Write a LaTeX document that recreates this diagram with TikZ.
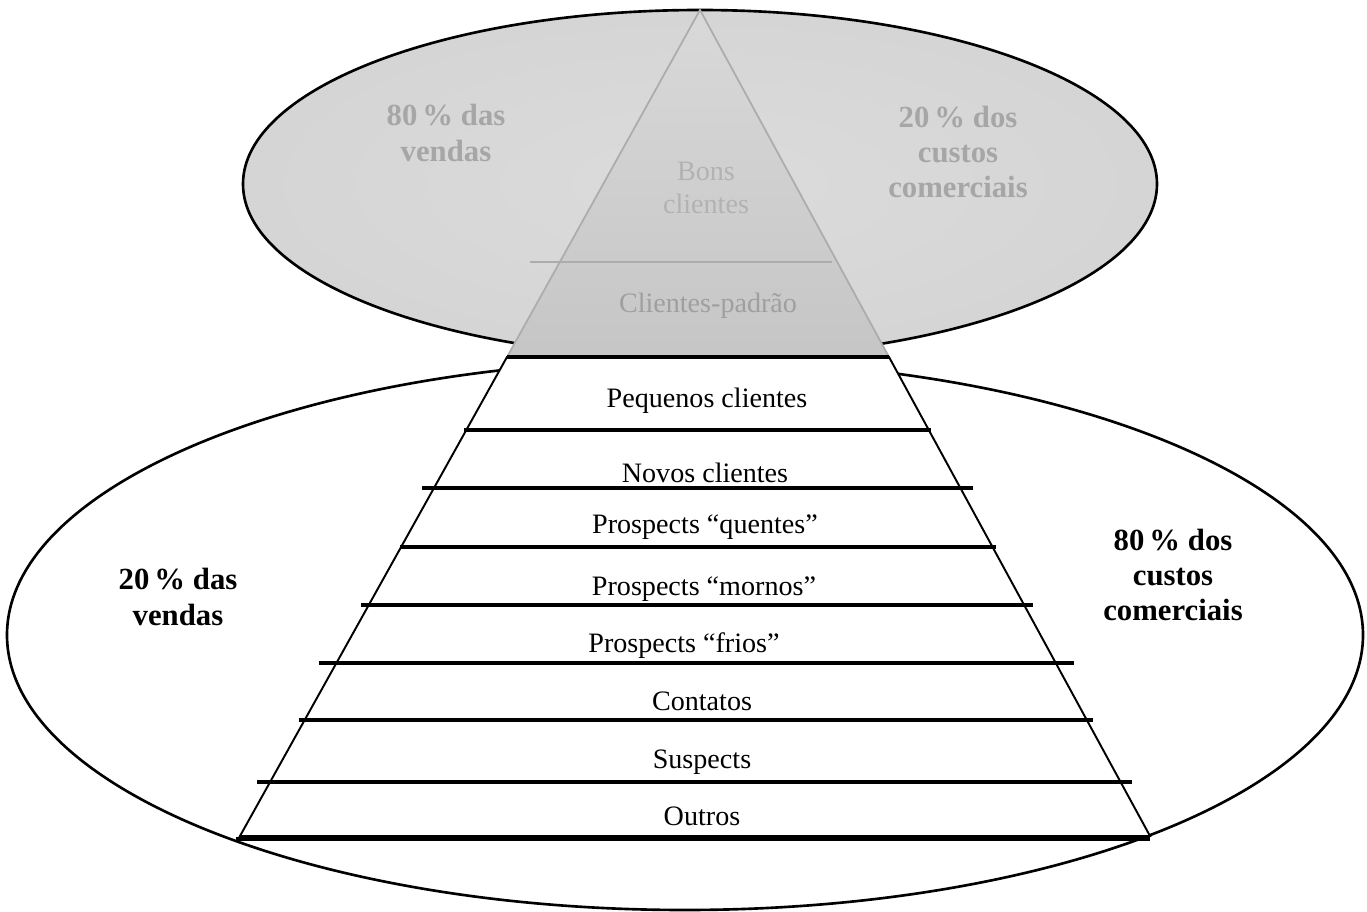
\documentclass[tikz,border=0pt]{standalone}
\usepackage{fontspec}
\setmainfont{Liberation Serif}
\usepackage{tikz}
\pgfdeclareradialshading{halo}{\pgfpoint{0bp}{0bp}}{color(0bp)=(gray!28); color(30bp)=(gray!34); color(43bp)=(gray!50); color(50bp)=(gray!85)}

\begin{document}
\begin{tikzpicture}[x=0.02cm,y=-0.02cm,
  layer/.style={font=\fontsize{16}{19}\selectfont,anchor=base},
  share/.style={font=\fontsize{17.5}{20}\selectfont\bfseries,align=center},
  cut/.style={line width=2pt}]
\useasboundingbox (0,0) rectangle (1367,912);
% lower and upper ellipses
\draw[line width=1.5pt] (685,635) ellipse [x radius=678, y radius=275];
\shade[shading=halo] (700,184) ellipse [x radius=457, y radius=174];
\draw[line width=1.5pt] (700,184) ellipse [x radius=457, y radius=174];
% pyramid
\shade[top color=gray!30,bottom color=gray!45] (700,10) -- (889,357) -- (507,357) -- cycle;
\draw[gray!65,line width=1pt] (507,357) -- (700,10) -- (889,357);
\draw[gray!65,line width=1.5pt] (530,262) -- (832,262);
\filldraw[fill=white,line width=1.1pt] (507,357) -- (889,357) -- (1150,836) -- (240,836) -- cycle;
\draw[cut] (507,357) -- (889,357);
\draw[cut] (464,430) -- (931,430);
\draw[cut] (422,488) -- (973,488);
\draw[cut] (400,547) -- (996,547);
\draw[cut] (361,605) -- (1033,605);
\draw[cut] (319,663) -- (1074,663);
\draw[cut] (299,720) -- (1093,720);
\draw[cut] (257,782) -- (1132,782);
\draw[cut] (236,839) -- (1150,839);
% layers
\node[font=\fontsize{16}{19}\selectfont,align=center,text=gray!60] (bons) at (706,188) {Bons\\clientes};
\node[layer,text=gray!75] (padrao) at (708,313) {Clientes-padrão};
\node[layer] (pequenos) at (707,408) {Pequenos clientes};
\node[layer] (novos) at (705,482) {Novos clientes};
\node[layer] (quentes) at (705,533) {Prospects “quentes”};
\node[layer] (mornos) at (704,595) {Prospects “mornos”};
\node[layer] (frios) at (684,652) {Prospects “frios”};
\node[layer] (contatos) at (702,710) {Contatos};
\node[layer] (suspects) at (702,768) {Suspects};
\node[layer] (outros) at (702,825) {Outros};
% shares
\node[share,text=gray!70] (vendasA) at (446,133) {80\,\% das\\vendas};
\node[share,text=gray!70] (custosA) at (958,152) {20\,\% dos\\custos\\comerciais};
\node[share] (vendasB) at (178,597) {20\,\% das\\vendas};
\node[share] (custosB) at (1173,575) {80\,\% dos\\custos\\comerciais};
\end{tikzpicture}
\end{document}
